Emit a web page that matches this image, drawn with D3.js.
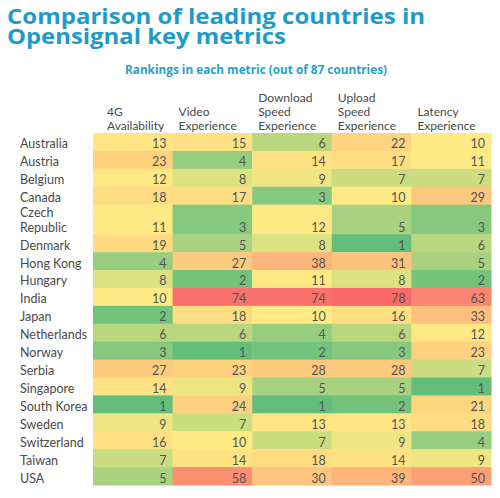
<!DOCTYPE html>
<html>
<head>
<meta charset="utf-8">
<script src="https://cdn.jsdelivr.net/npm/d3@7"></script>
<style>
  html, body { margin: 0; padding: 0; background: #fff; }
  svg { display: block; }
</style>
</head>
<body>
<div id="chart"></div>
<script>
// ---- data ----
const countries = ["Australia","Austria","Belgium","Canada","Czech Republic","Denmark","Hong Kong","Hungary","India","Japan","Netherlands","Norway","Serbia","Singapore","South Korea","Sweden","Switzerland","Taiwan","USA"];
const countryLines = [["Australia"],["Austria"],["Belgium"],["Canada"],["Czech","Republic"],["Denmark"],["Hong Kong"],["Hungary"],["India"],["Japan"],["Netherlands"],["Norway"],["Serbia"],["Singapore"],["South Korea"],["Sweden"],["Switzerland"],["Taiwan"],["USA"]];
const metrics = ["4G Availability","Video Experience","Download Speed Experience","Upload Speed Experience","Latency Experience"];
const metricLines = [["4G","Availability"],["Video","Experience"],["Download","Speed","Experience"],["Upload","Speed","Experience"],["Latency","Experience"]];
const availability4G = [13,23,12,18,11,19,4,8,10,2,6,3,27,14,1,9,16,7,5];
const videoExperience = [15,4,8,17,3,5,27,2,74,18,6,1,23,9,24,7,10,14,58];
const downloadSpeed = [6,14,9,3,12,8,38,11,74,10,4,2,28,5,1,13,7,18,30];
const uploadSpeed = [22,17,7,10,5,1,31,8,78,16,6,3,28,5,2,13,9,14,39];
const latencyExperience = [10,11,7,29,3,6,5,2,63,33,12,23,7,1,21,18,4,9,50];
const titleLines = ["Comparison of leading countries in","Opensignal key metrics"];
const subtitle = "Rankings in each metric (out of 87 countries)";

const seriesValues = [availability4G, videoExperience, downloadSpeed, uploadSpeed, latencyExperience];

// ---- layout ----
const W = 500, H = 498;
const svg = d3.select("#chart").append("svg").attr("width", W).attr("height", H);

const titleColor = "#1d9bc9";
const textColor = "#4a4a4a";

svg.selectAll("text.title").data(titleLines).join("text")
  .attr("class","title")
  .attr("x", 7)
  .attr("y", (d,i) => 23.5 + i*20.5)
  .attr("textLength", (d,i) => i === 0 ? 418 : 279)
  .attr("lengthAdjust","spacingAndGlyphs")
  .style("font-family","'Open Sans', sans-serif")
  .style("font-weight","700")
  .style("font-size","22px")
  .style("fill", titleColor)
  .text(d => d);

svg.append("text")
  .attr("x", 125).attr("y", 74)
  .attr("textLength", 262).attr("lengthAdjust","spacingAndGlyphs")
  .style("font-family","'Open Sans', sans-serif")
  .style("font-weight","700")
  .style("font-size","12px")
  .style("fill", "#2a9fcb")
  .text(subtitle);

// rows: Czech Republic takes 2 label lines -> taller row
const rowUnits = countryLines.map(l => l.length > 1 ? 1.65 : 1);
const cum = [0];
rowUnits.forEach(u => cum.push(cum[cum.length-1] + u));
const yUnit = d3.scaleLinear().domain([0, cum[cum.length-1]]).range([133, 485]);

const x = d3.scaleBand().domain(metrics).range([93, 491]).paddingInner(0).paddingOuter(0);

const allVals = seriesValues.flat();
const color = d3.scaleLinear()
  .domain([d3.min(allVals), d3.median(allVals), d3.max(allVals)])
  .range(["#63be7b", "#ffeb84", "#f8696b"])
  .interpolate(d3.interpolateRgb);

const cells = [];
metrics.forEach((m, j) => {
  countries.forEach((c, i) => {
    cells.push({metric: m, country: c, i, j, value: seriesValues[j][i]});
  });
});

const g = svg.append("g");
g.selectAll("rect").data(cells).join("rect")
  .attr("x", d => x(d.metric))
  .attr("y", d => yUnit(cum[d.i]))
  .attr("width", x.bandwidth() + 0.5)
  .attr("height", d => yUnit(cum[d.i+1]) - yUnit(cum[d.i]) + 0.5)
  .attr("fill", d => color(d.value));

g.selectAll("text.val").data(cells).join("text")
  .attr("class","val")
  .attr("x", d => x(d.metric) + x.bandwidth() - 6)
  .attr("y", d => yUnit(cum[d.i+1]) - 2.5)
  .attr("text-anchor","end")
  .style("font-family","Lato, sans-serif")
  .style("font-size","12.5px")
  .style("fill", "#555")
  .text(d => d.value);

// row labels (bottom-aligned)
const rowG = svg.selectAll("g.row").data(countries).join("g").attr("class","row");
rowG.each(function(c, i) {
  const lines = countryLines[i];
  const bottom = yUnit(cum[i+1]) - 2.5;
  d3.select(this).selectAll("text").data(lines).join("text")
    .attr("x", 20)
    .attr("y", (d, k) => bottom - (lines.length - 1 - k) * 14.5)
    .style("font-family","Lato, sans-serif")
    .style("font-size","12.5px")
    .style("fill", textColor)
    .text(d => d);
});

// column headers (bottom-aligned)
const headG = svg.selectAll("g.head").data(metrics).join("g").attr("class","head");
headG.each(function(m, j) {
  const lines = metricLines[j];
  const left = j === 0 ? x(m) + 14 : x(m) + 6;
  d3.select(this).selectAll("text").data(lines).join("text")
    .attr("x", left)
    .attr("y", (d, k) => 129.5 - (lines.length - 1 - k) * 14)
    .style("font-family","Lato, sans-serif")
    .style("font-size","12px")
    .style("fill", textColor)
    .text(d => d);
});
</script>
</body>
</html>
